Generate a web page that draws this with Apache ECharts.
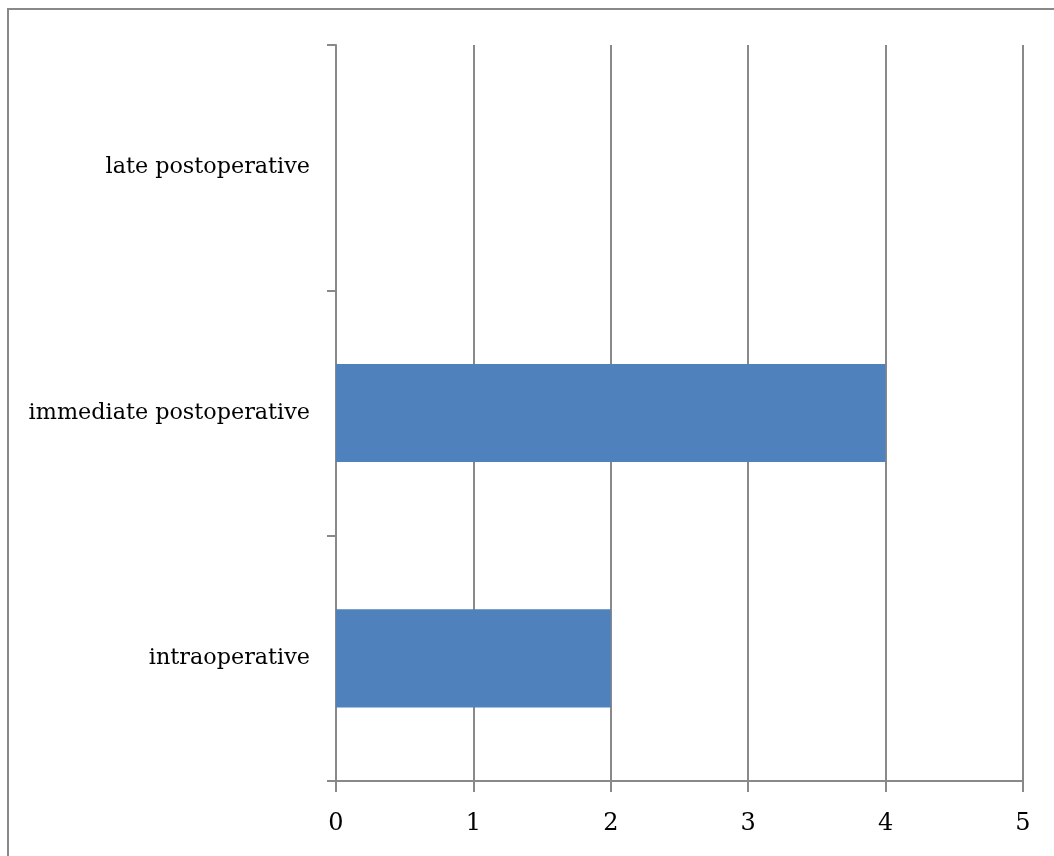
<!DOCTYPE html>
<html><head><meta charset="utf-8">
<script src="https://cdn.jsdelivr.net/npm/echarts@6/dist/echarts.min.js"></script>
<style>html,body{margin:0;padding:0;background:#fff}#c{width:1054px;height:856px}</style>
</head><body><div id="c"></div>
<script>
const categories = ['intraoperative', 'immediate postoperative', 'late postoperative'];
const values = [2, 4, 0];
const xTicks = [0, 1, 2, 3, 4, 5];

const chart = echarts.init(document.getElementById('c'), null, {renderer: 'canvas'});
const font = '"DejaVu Serif", "Liberation Serif", serif';
chart.setOption({
  animation: false,
  graphic: [{
    type: 'rect', shape: {x: 8, y: 9, width: 1100, height: 900},
    style: {fill: 'none', stroke: '#898989', lineWidth: 2}, silent: true
  }],
  grid: {left: 336, right: 31, top: 45, bottom: 75, containLabel: false},
  xAxis: {
    type: 'value', min: xTicks[0], max: xTicks[xTicks.length - 1], interval: 1,
    axisLine: {show: true, lineStyle: {color: '#898989', width: 2}},
    axisTick: {show: true, length: 11, lineStyle: {color: '#898989', width: 2}},
    splitLine: {show: true, lineStyle: {color: '#898989', width: 2}},
    axisLabel: {color: '#000', fontFamily: font, fontSize: 24, margin: 31}
  },
  yAxis: {
    type: 'category', data: categories,
    axisLine: {show: true, lineStyle: {color: '#898989', width: 2}},
    axisTick: {show: true, length: 9, lineStyle: {color: '#898989', width: 2}},
    axisLabel: {color: '#000', fontFamily: font, fontSize: 22.3, margin: 26}
  },
  series: [{
    type: 'bar', data: values, barCategoryGap: '60%',
    itemStyle: {color: '#4F81BD'}
  }]
});
</script></body></html>
